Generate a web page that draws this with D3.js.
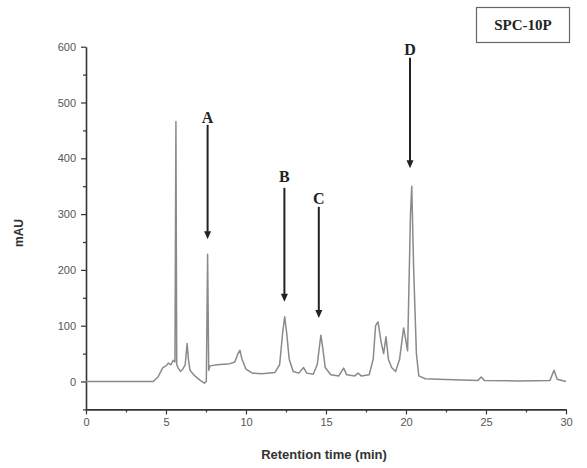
<!DOCTYPE html>
<html><head><meta charset="utf-8">
<script src="https://cdn.jsdelivr.net/npm/d3@7/dist/d3.min.js"></script>
<style>body{margin:0;background:#fff}svg{display:block}</style>
</head><body>
<script>
// Chromatogram trace: retention time (min) and absorbance (mAU)
const times = [0,4.2,4.5,4.8,5.0,5.15,5.3,5.45,5.56,5.62,5.67,5.75,5.9,6.05,6.2,6.32,6.4,6.5,6.8,7.1,7.4,7.52,7.6,7.67,7.75,8.2,9.0,9.3,9.5,9.62,9.75,10.0,10.4,11.0,11.8,12.1,12.3,12.42,12.55,12.7,12.95,13.3,13.6,13.8,14.2,14.45,14.68,14.8,14.95,15.3,15.8,16.1,16.3,16.8,17.0,17.2,17.7,17.95,18.1,18.25,18.45,18.6,18.75,18.9,19.1,19.35,19.6,19.85,19.95,20.1,20.28,20.36,20.48,20.65,20.8,21.2,22,24.5,24.7,24.9,27,29.0,29.25,29.45,30];
const mAU   = [0,0,8,25,28,33,30,38,35,466,30,25,18,22,30,68,40,20,10,3,-3,0,228,20,28,30,32,35,50,56,40,22,15,14,16,30,90,116,85,40,18,15,25,15,13,30,83,60,25,12,10,24,12,10,15,10,12,40,100,107,70,50,80,40,25,18,40,96,80,55,300,350,200,50,10,5,4,2,8,2,1,2,20,4,0];

const xTicks = [0,5,10,15,20,25,30];
const yTicks = [0,100,200,300,400,500,600];
const xMinor = [2.5,7.5,12.5,17.5,22.5,27.5];
const yMinor = [-50,50,150,250,350,450,550];

// Peak annotations (data units)
const peakLabels = ["A","B","C","D"];
const arrowTime  = [7.6,12.4,14.55,20.25];
const arrowTop   = [460,347,313,580];
const arrowTip   = [255,143,114,382];
const labelLevel = [474,367,329,596];

const sampleName = "SPC-10P";

const W=587,H=468;
const m={l:86,r:21,t:46.7,b:58.6};
const svg=d3.select("body").append("svg").attr("width",W).attr("height",H);
const x=d3.scaleLinear().domain([0,30]).range([m.l,W-m.r]);
const y=d3.scaleLinear().domain([-50,600]).range([H-m.b,m.t]);

const axisColor="#333";
// X axis
const gx=svg.append("g").attr("transform",`translate(0,${H-m.b})`)
  .call(d3.axisBottom(x).tickValues(xTicks).tickSize(5).tickSizeOuter(0).tickPadding(4));
gx.selectAll(".tick").filter(function(d){return false;});
svg.append("g").attr("transform",`translate(0,${H-m.b})`)
  .call(d3.axisBottom(x).tickValues(xMinor).tickSize(3).tickSizeOuter(0).tickFormat(""))
  .select(".domain").remove();
// Y axis
const gy=svg.append("g").attr("transform",`translate(${m.l},0)`)
  .call(d3.axisLeft(y).tickValues(yTicks).tickSize(5).tickSizeOuter(0).tickPadding(5));
svg.append("g").attr("transform",`translate(${m.l},0)`)
  .call(d3.axisLeft(y).tickValues(yMinor).tickSize(3).tickSizeOuter(0).tickFormat(""))
  .select(".domain").remove();

svg.selectAll(".domain").attr("stroke",axisColor).attr("stroke-width",1.6);
svg.selectAll(".tick line").attr("stroke",axisColor).attr("stroke-width",1.2);
svg.selectAll(".tick text").attr("fill","#555").attr("font-family","Liberation Sans, Arial, sans-serif").attr("font-size",11);

// Trace
const pts=times.map((t,i)=>[t,mAU[i]]);
svg.append("path").datum(pts)
  .attr("fill","none").attr("stroke","#8a8a8a").attr("stroke-width",1.5).attr("stroke-linejoin","round")
  .attr("d",d3.line().x(d=>x(d[0])).y(d=>y(d[1])));

// Arrows + labels
const ann=peakLabels.map((l,i)=>({l,t:arrowTime[i],top:arrowTop[i],tip:arrowTip[i],lv:labelLevel[i]}));
const g=svg.append("g");
ann.forEach(a=>{
  const xp=x(a.t);
  g.append("line").attr("x1",xp).attr("x2",xp).attr("y1",y(a.top)).attr("y2",y(a.tip)-6)
    .attr("stroke","#222").attr("stroke-width",2);
  const ty=y(a.tip);
  g.append("path").attr("d",`M${xp-3.5},${ty-8}L${xp+3.5},${ty-8}L${xp},${ty}Z`).attr("fill","#222");
  g.append("text").attr("x",xp).attr("y",y(a.lv)).attr("dy","0.35em").attr("text-anchor","middle")
    .attr("font-family","Liberation Serif, Times New Roman, serif").attr("font-weight","bold").attr("font-size",16)
    .attr("fill","#222").text(a.l);
});

// Sample box
svg.append("rect").attr("x",476.5).attr("y",7.5).attr("width",93).attr("height",35)
  .attr("fill","#fff").attr("stroke","#666").attr("stroke-width",1.2);
svg.append("text").attr("x",523).attr("y",25).attr("dy","0.35em").attr("text-anchor","middle")
  .attr("font-family","Liberation Serif, Times New Roman, serif").attr("font-weight","bold").attr("font-size",15)
  .attr("fill","#222").text(sampleName);

// Axis titles
svg.append("text").attr("x",(m.l+W-m.r)/2-2).attr("y",454).attr("dy","0.35em").attr("text-anchor","middle")
  .attr("font-family","Liberation Sans, Arial, sans-serif").attr("font-weight","bold").attr("font-size",13)
  .attr("fill","#333").text("Retention time (min)");
svg.append("text").attr("transform","translate(19,233) rotate(-90)").attr("dy","0.35em").attr("text-anchor","middle")
  .attr("font-family","Liberation Sans, Arial, sans-serif").attr("font-weight","bold").attr("font-size",12)
  .attr("fill","#333").text("mAU");
</script>
</body></html>
